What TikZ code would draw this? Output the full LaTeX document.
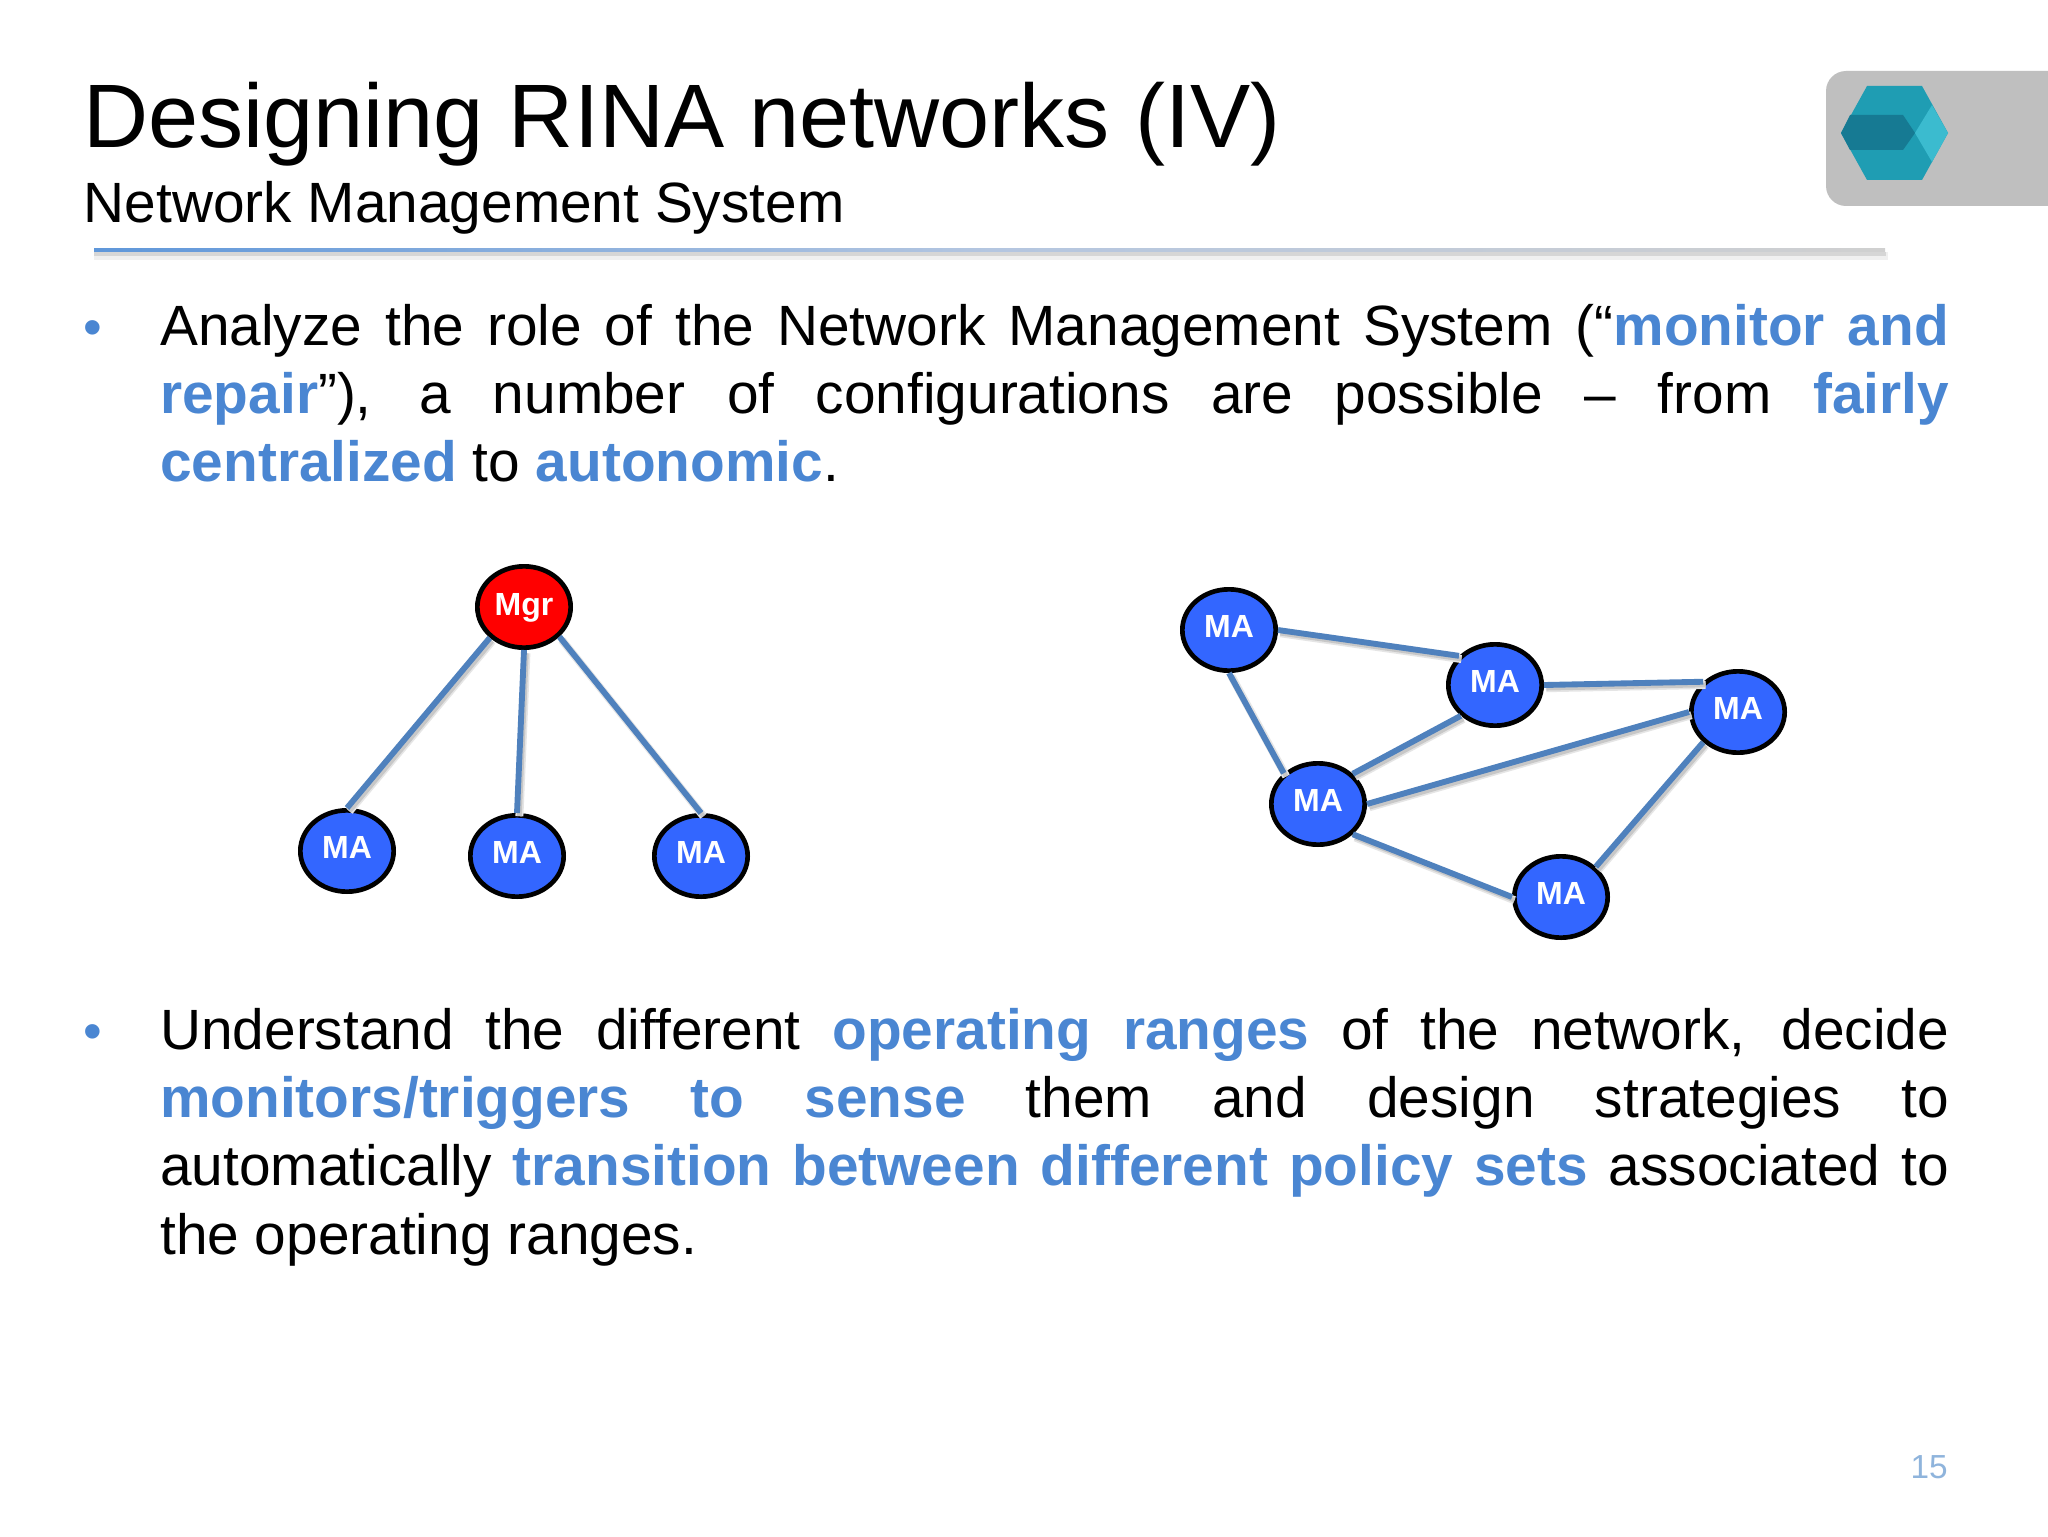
\documentclass[tikz,border=0pt]{standalone}
\usepackage{fontspec}
\setmainfont{Liberation Sans}
\usetikzlibrary{shapes.geometric}
\definecolor{hl}{HTML}{4A86D2}
\definecolor{edge}{HTML}{4F81BD}
\definecolor{mablue}{HTML}{3366FF}
\definecolor{mgrred}{HTML}{FF0000}
\definecolor{pagenum}{HTML}{8FB4DC}
\definecolor{logobg}{HTML}{BFBFBF}
\definecolor{hexa}{HTML}{1F9DB3}
\definecolor{hexb}{HTML}{167A93}
\definecolor{hexc}{HTML}{3BBBCF}
\definecolor{ruleblue}{HTML}{5F97DA}
\definecolor{rulemid}{HTML}{B4C6E0}
\definecolor{rulegray}{HTML}{D0D0D0}
\newcommand{\hlt}[1]{\textcolor{hl}{\textbf{#1}}}
\newcommand{\malabel}{\raisebox{0pt}[11pt][0pt]{MA}}
\tikzset{
  x=0.75pt,y=-0.75pt,
  agent/.style={ellipse,draw=black,line width=3.5pt,fill=mablue,text=white,minimum width=70pt,minimum height=61pt,inner sep=0pt,font=\fontsize{24}{26}\selectfont\bfseries},
  manager/.style={agent,fill=mgrred},
  conn/.style={draw=edge,line width=4.4pt,
    preaction={draw=black!10,line width=6pt,transform canvas={xshift=1.8pt,yshift=-2.4pt}},
    preaction={draw=black!22,line width=3.5pt,transform canvas={xshift=1.8pt,yshift=-2.4pt}}},
  bodytext/.style={anchor=north west,text width=1341.5pt,align=justify,inner sep=0pt,font=\fontsize{42.6}{51.2}\selectfont},
  bulletmark/.style={anchor=base,inner sep=0pt,font=\fontsize{40}{46}\selectfont,text=hl},
}
\begin{document}
\begin{tikzpicture}
\useasboundingbox (0,0) rectangle (2048,1537);
\fill[white] (0,0) rectangle (2048,1537);
% logo
\begin{scope}
\clip (0,0) rectangle (2048,1537);
\fill[logobg,rounded corners=15pt] (1826,71) rectangle (2100,206);
\end{scope}
\fill[hexa] (1867,86) -- (1922,86) -- (1948,133) -- (1922,180) -- (1867,180) -- (1841,133) -- cycle;
\fill[hexb] (1841,133) -- (1850,115) -- (1903,115) -- (1915,133) -- (1903,150) -- (1850,150) -- cycle;
\fill[hexc] (1932,105) -- (1948,133) -- (1932,162) -- (1915,133) -- cycle;
% title
\node[anchor=base west,inner sep=0pt,font=\fontsize{67.6}{72}\selectfont] (title) at (83,147.5) {Designing RINA networks (IV)};
\node[anchor=base west,inner sep=0pt,font=\fontsize{42.6}{48}\selectfont] (subtitle) at (83.5,223) {Network Management System};
% rule
\fill[black!6] (94,252) rectangle (1888,260);
\fill[black!16] (94,252) rectangle (1886,256);
\shade[left color=ruleblue,right color=rulegray,middle color=rulemid] (94,248.5) rectangle (1885,252);
% bullets
\node[bulletmark] (b1) at (93,345) {•};
\node[bulletmark] (b2) at (93,1049) {•};
% body
\node[bodytext] (p1) at (160,304) {Analyze the role of the Network Management System (“\hlt{monitor and}\linebreak \hlt{repair}”), a number of configurations are possible – from \hlt{fairly}\linebreak \hlt{centralized} to \hlt{autonomic}.};
\node[bodytext] (p2) at (160,1008) {Understand the different \hlt{operating ranges} of the network, decide\linebreak \hlt{monitors/triggers to sense} them and design strategies to\linebreak automatically \hlt{transition between different policy sets} associated to\linebreak the operating ranges.};
% agents and manager
\node[manager] (mgr) at (524,607) {\raisebox{0pt}[13pt][0pt]{Mgr}};
\node[agent] (a1) at (347,851) {\malabel};
\node[agent] (a2) at (517,856) {\malabel};
\node[agent] (a3) at (701,856) {\malabel};
\node[agent] (n1) at (1229,630) {\malabel};
\node[agent] (n2) at (1495,685) {\malabel};
\node[agent] (n3) at (1738,712) {\malabel};
\node[agent] (n4) at (1318,804) {\malabel};
\node[agent] (n5) at (1561,897) {\malabel};
\draw[conn] (mgr.222) -- (a1.north);
\draw[conn] (mgr.south) -- (a2.north);
\draw[conn] (mgr.-40) -- (a3.north);
\draw[conn] (n1.east) -- (n2.141);
\draw[conn] (n2.east) -- (n3.139);
\draw[conn] (n1.south) -- (n4.138);
\draw[conn] (n2.222) -- (n4.41);
\draw[conn] (n4.east) -- (n3.west);
\draw[conn] (n4.-41) -- (n5.west);
\draw[conn] (n5.41) -- (n3.221);
% page number
\node[anchor=base east,inner sep=0pt,font=\fontsize{25}{30}\selectfont,text=pagenum] (pg) at (1948,1478) {15};
\end{tikzpicture}
\end{document}
